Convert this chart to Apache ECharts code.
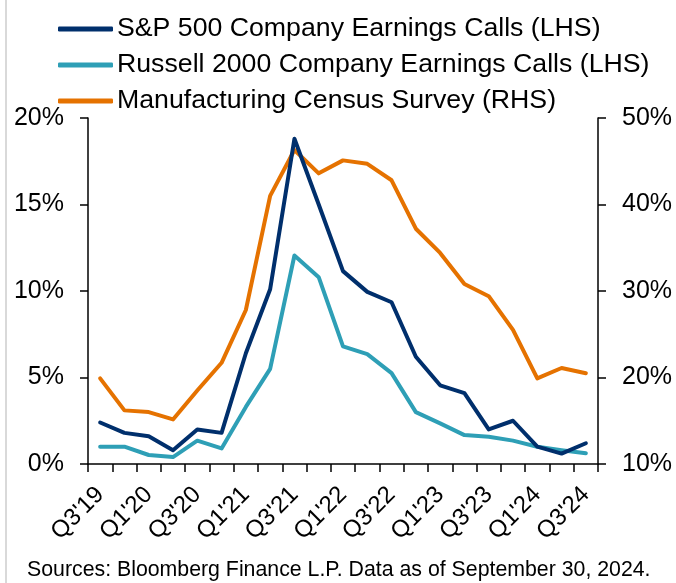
<!DOCTYPE html>
<html>
<head>
<meta charset="utf-8">
<script src="https://cdn.jsdelivr.net/npm/echarts@6/dist/echarts.min.js"></script>
<style>
  html, body { margin: 0; padding: 0; background: #fff; }
  #chart { width: 676px; height: 583px; }
</style>
</head>
<body>
<div id="chart"></div>
<script>
// quarters Q3'19 .. Q3'24
const quarters = [
  "Q3'19", "Q4'19", "Q1'20", "Q2'20", "Q3'20", "Q4'20", "Q1'21", "Q2'21",
  "Q3'21", "Q4'21", "Q1'22", "Q2'22", "Q3'22", "Q4'22", "Q1'23", "Q2'23",
  "Q3'23", "Q4'23", "Q1'24", "Q2'24", "Q3'24"
];
// share of calls mentioning the topic, % (LHS)
const spx = [2.4, 1.8, 1.6, 0.8, 2.0, 1.8, 6.4, 10.1, 18.8, 15.0, 11.15, 9.95, 9.35,
  6.2, 4.55, 4.1, 2.0, 2.5, 1.0, 0.6, 1.2];
const russell = [1.0, 1.0, 0.52, 0.4, 1.35, 0.9, 3.3, 5.5, 12.05, 10.8, 6.8, 6.35, 5.25,
  3.0, 2.35, 1.67, 1.57, 1.35, 1.0, 0.8, 0.62];
// manufacturing census survey, % (RHS)
const census = [19.9, 16.2, 16.0, 15.15, 18.5, 21.7, 27.8, 41.0, 46.3, 43.6, 45.1, 44.7,
  42.8, 37.2, 34.4, 30.8, 29.4, 25.5, 19.9, 21.1, 20.5];

const font = 'Liberation Sans, Arial, sans-serif';

const chart = echarts.init(document.getElementById('chart'));

function line(name, data, color, yIdx) {
  return {
    name: name,
    type: 'line',
    yAxisIndex: yIdx,
    data: data,
    symbol: 'none',
    lineStyle: { color: color, width: 4, cap: 'round', join: 'round' },
    itemStyle: { color: color },
    animation: false
  };
}

chart.setOption({
  backgroundColor: '#fff',
  textStyle: { fontFamily: font },
  legend: {
    orient: 'vertical',
    left: 58,
    top: 15,
    padding: 0,
    itemWidth: 55,
    itemHeight: 5,
    itemGap: 8,
    icon: 'roundRect',
    textStyle: { fontSize: 26.7, color: '#000', lineHeight: 28, fontFamily: font, padding: [0, 0, 0, -1] },
    data: [
      'S&P 500 Company Earnings Calls (LHS)',
      'Russell 2000 Company Earnings Calls (LHS)',
      'Manufacturing Census Survey (RHS)'
    ]
  },
  grid: { left: 88, right: 78, top: 118, bottom: 119 },
  xAxis: {
    type: 'category',
    data: quarters,
    boundaryGap: true,
    axisLine: { lineStyle: { color: '#000', width: 1.5 } },
    axisTick: { show: true, interval: 0, length: 8, lineStyle: { color: '#000', width: 1.5 } },
    axisLabel: {
      interval: 1, rotate: 45, margin: 27,
      fontSize: 24, color: '#000', fontFamily: font
    },
    splitLine: { show: false }
  },
  yAxis: [
    {
      type: 'value', min: 0, max: 20, interval: 5,
      axisLine: { show: true, lineStyle: { color: '#000', width: 1.5 } },
      axisTick: { show: true, length: 8, lineStyle: { color: '#000', width: 1.5 } },
      axisLabel: { formatter: '{value}%', margin: 24, fontSize: 25, color: '#000', fontFamily: font },
      splitLine: { show: false }
    },
    {
      type: 'value', min: 10, max: 50, interval: 10, position: 'right',
      axisLine: { show: true, lineStyle: { color: '#000', width: 1.5 } },
      axisTick: { show: true, length: 8, lineStyle: { color: '#000', width: 1.5 } },
      axisLabel: { formatter: '{value}%', margin: 24, fontSize: 25, color: '#000', fontFamily: font },
      splitLine: { show: false }
    }
  ],
  series: [
    line('Manufacturing Census Survey (RHS)', census, '#e57200', 1),
    line('Russell 2000 Company Earnings Calls (LHS)', russell, '#2e9fb6', 0),
    line('S&P 500 Company Earnings Calls (LHS)', spx, '#002f6c', 0)
  ],
  graphic: [
    {
      type: 'rect',
      left: 5, top: 0,
      shape: { width: 2, height: 583 },
      style: { fill: '#d9d9d9' }
    },
    {
      type: 'text',
      left: 27, top: 560,
      style: {
        text: 'Sources: Bloomberg Finance L.P. Data as of September 30, 2024.',
        fontSize: 21.3, fill: '#000', fontFamily: font
      }
    }
  ]
});
</script>
</body>
</html>
